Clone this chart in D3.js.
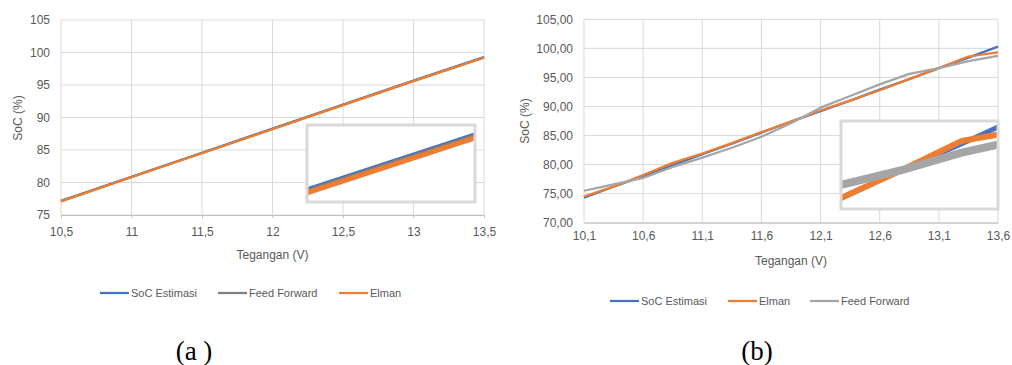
<!DOCTYPE html>
<html>
<head>
<meta charset="utf-8">
<script src="https://cdn.jsdelivr.net/npm/d3@7"></script>
<style>
  body { margin: 0; background: #fff; }
  text { font-family: "Liberation Sans", Arial, sans-serif; }
</style>
</head>
<body>
<div id="chart"></div>
<script>
/* DATA */
// panel (a)
const voltA = [10.5, 11, 11.5, 12, 12.5, 13, 13.5];
const socA = [77.18, 80.88, 84.58, 88.28, 91.98, 95.68, 99.28];
const feedA = [77.14, 80.84, 84.54, 88.24, 91.94, 95.64, 99.24];
const elmanA = [77.1, 80.8, 84.5, 88.2, 91.9, 95.6, 99.2];
const xTicksA = [10.5, 11, 11.5, 12, 12.5, 13, 13.5];
const yTicksA = [75, 80, 85, 90, 95, 100, 105];

// panel (b)
const voltB = [10.1, 10.35, 10.6, 10.85, 11.1, 11.35, 11.6, 11.85, 12.1, 12.35, 12.6, 12.85, 13.1, 13.35, 13.6];
const socB = [74.3, 76.2, 78.0, 79.9, 81.8, 83.6, 85.5, 87.4, 89.2, 91.0, 92.9, 94.7, 96.6, 98.4, 100.3];
const elmanB = [74.5, 76.2, 78.2, 80.3, 81.9, 83.7, 85.6, 87.4, 89.3, 91.0, 92.8, 94.7, 96.6, 98.6, 99.3];
const feedB = [75.5, 76.6, 77.7, 79.6, 81.2, 82.9, 84.8, 87.1, 89.8, 91.8, 93.8, 95.6, 96.6, 97.8, 98.7];
const xTicksB = [10.1, 10.6, 11.1, 11.6, 12.1, 12.6, 13.1, 13.6];
const yTicksB = [70, 75, 80, 85, 90, 95, 100, 105];

const svg = d3.select("#chart")
  .append("svg")
  .attr("width", 1012)
  .attr("height", 365);

const comma = d => String(d).replace(".", ",");

function drawPanel(p) {
  const x = d3.scaleLinear().domain(p.xDomain).range([p.left, p.right]);
  const y = d3.scaleLinear().domain(p.yDomain).range([p.bottom, p.top]);

  // grid lines
  svg.append("g")
    .selectAll("line.vgrid")
    .data(p.xTicks)
    .join("line")
    .attr("x1", d => x(d)).attr("x2", d => x(d))
    .attr("y1", p.top).attr("y2", p.bottom)
    .attr("stroke", "#d9d9d9").attr("stroke-width", 1);

  svg.append("g")
    .selectAll("line.hgrid")
    .data(p.yTicks)
    .join("line")
    .attr("x1", p.left).attr("x2", p.right)
    .attr("y1", d => y(d)).attr("y2", d => y(d))
    .attr("stroke", "#d9d9d9").attr("stroke-width", 1);

  // axes
  const xAxis = svg.append("g")
    .attr("transform", `translate(0, ${p.bottom})`)
    .call(d3.axisBottom(x).tickValues(p.xTicks).tickSize(p.tick).tickPadding(9).tickFormat(p.xFmt));
  xAxis.select(".domain").attr("stroke", "#bfbfbf");
  xAxis.selectAll(".tick line").attr("stroke", "#bfbfbf");
  xAxis.selectAll("text").attr("fill", "#595959").style("font-size", "12px");

  const yAxis = svg.append("g")
    .attr("transform", `translate(${p.left}, 0)`)
    .call(d3.axisLeft(y).tickValues(p.yTicks).tickSize(0).tickPadding(p.yPad).tickFormat(p.yFmt));
  yAxis.select(".domain").remove();
  yAxis.selectAll("text").attr("fill", "#595959").style("font-size", "12px");

  // axis labels
  svg.append("text")
    .attr("x", (p.left + p.right) / 2)
    .attr("y", p.xLabelY)
    .attr("text-anchor", "middle")
    .attr("fill", "#595959")
    .style("font-size", "12px")
    .text("Tegangan (V)");

  svg.append("text")
    .attr("transform", `translate(${p.yLabelX}, ${p.yLabelY}) rotate(-90)`)
    .attr("text-anchor", "middle")
    .attr("fill", "#595959")
    .style("font-size", "12px")
    .text("SoC (%)");

  // lines
  const line = d3.line().x(d => x(d[0])).y(d => y(d[1]));
  p.series.forEach(s => {
    svg.append("path")
      .datum(p.volts.map((v, i) => [v, s.values[i]]))
      .attr("d", line)
      .attr("fill", "none")
      .attr("stroke", s.color)
      .attr("stroke-width", 2.25)
      .attr("stroke-linejoin", "round");
  });

  // inset (zoomed view)
  const ins = p.inset;
  const ix = d3.scaleLinear().domain(ins.xDomain).range([ins.x0, ins.x1]);
  const iy = d3.scaleLinear().domain(ins.yDomain).range([ins.y1, ins.y0]);
  svg.append("clipPath").attr("id", "clip-" + p.id)
    .append("rect")
    .attr("x", ins.x0).attr("y", ins.y0)
    .attr("width", ins.x1 - ins.x0).attr("height", ins.y1 - ins.y0);

  svg.append("rect")
    .attr("x", ins.x0).attr("y", ins.y0)
    .attr("width", ins.x1 - ins.x0).attr("height", ins.y1 - ins.y0)
    .attr("fill", "#fff");

  const iline = d3.line().x(d => ix(d[0])).y(d => iy(d[1]));
  const ig = svg.append("g").attr("clip-path", `url(#clip-${p.id})`);
  p.series.forEach(s => {
    ig.append("path")
      .datum(p.volts.map((v, i) => [v, s.values[i]]))
      .attr("d", iline)
      .attr("fill", "none")
      .attr("stroke", s.color)
      .attr("stroke-width", s.insetWidth)
      .attr("stroke-linejoin", "round");
  });

  svg.append("rect")
    .attr("x", ins.x0).attr("y", ins.y0)
    .attr("width", ins.x1 - ins.x0).attr("height", ins.y1 - ins.y0)
    .attr("fill", "none")
    .attr("stroke", "#d9d9d9")
    .attr("stroke-width", 3);

  // legend
  p.legend.forEach(l => {
    const s = p.series.find(d => d.name === l.name);
    svg.append("line")
      .attr("x1", l.x).attr("x2", l.x + 29)
      .attr("y1", p.legendY).attr("y2", p.legendY)
      .attr("stroke", s.color).attr("stroke-width", 2.25);
    svg.append("text")
      .attr("x", l.x + 31)
      .attr("y", p.legendY + 4)
      .attr("fill", "#595959")
      .style("font-size", "11px")
      .text(l.name);
  });

  // panel caption
  svg.append("text")
    .attr("x", p.capX)
    .attr("y", 360)
    .attr("text-anchor", "middle")
    .attr("fill", "#000")
    .style("font-family", "'Liberation Serif', 'Times New Roman', serif")
    .style("font-size", "27px")
    .text(p.caption);
}

drawPanel({
  id: "a",
  left: 61, right: 484, top: 20, bottom: 215,
  xDomain: [10.5, 13.5], yDomain: [75, 105],
  xTicks: xTicksA, yTicks: yTicksA,
  xFmt: comma, yFmt: d3.format("d"),
  tick: 3, yPad: 11,
  xLabelY: 259, yLabelX: 22, yLabelY: 118,
  volts: voltA,
  series: [
    { name: "SoC Estimasi", values: socA, color: "#4472c4", insetWidth: 5 },
    { name: "Feed Forward", values: feedA, color: "#7f7f7f", insetWidth: 5 },
    { name: "Elman", values: elmanA, color: "#ed7d31", insetWidth: 5 }
  ],
  inset: { x0: 307, x1: 475, y0: 125, y1: 202, xDomain: [13.3, 13.5], yDomain: [97.52, 99.54] },
  legendY: 293,
  legend: [{ name: "SoC Estimasi", x: 100 }, { name: "Feed Forward", x: 218 }, { name: "Elman", x: 339 }],
  caption: "(a )", capX: 194
});

drawPanel({
  id: "b",
  left: 584, right: 998, top: 19.3, bottom: 222.7,
  xDomain: [10.1, 13.6], yDomain: [70, 105],
  xTicks: xTicksB, yTicks: yTicksB,
  xFmt: d => d.toFixed(1).replace(".", ","), yFmt: d => d.toFixed(2).replace(".", ","),
  tick: 0, yPad: 11,
  xLabelY: 265, yLabelX: 529, yLabelY: 121,
  volts: voltB,
  series: [
    { name: "SoC Estimasi", values: socB, color: "#4472c4", insetWidth: 5 },
    { name: "Elman", values: elmanB, color: "#ed7d31", insetWidth: 6 },
    { name: "Feed Forward", values: feedB, color: "#a5a5a5", insetWidth: 8 }
  ],
  inset: { x0: 841, x1: 998, y0: 121, y1: 209, xDomain: [12.85, 13.5], yDomain: [93.96, 99.95] },
  legendY: 301,
  legend: [{ name: "SoC Estimasi", x: 610 }, { name: "Elman", x: 728 }, { name: "Feed Forward", x: 810 }],
  caption: "(b)", capX: 757
});
</script>
</body>
</html>
